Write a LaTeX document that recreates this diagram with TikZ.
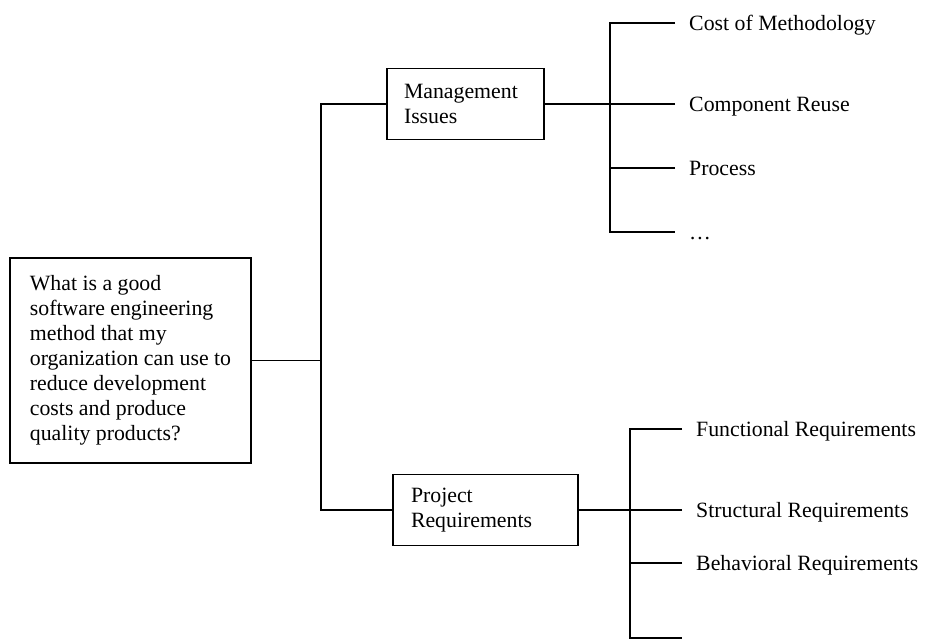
\documentclass[tikz,border=0pt]{standalone}
\usepackage{fontspec}
\setmainfont{Liberation Serif}
\tikzstyle{box} = [rectangle, draw=black, line width=1.6pt, align=left, inner ysep=0pt, font=\fontsize{21.8}{25}\selectfont]
\tikzstyle{leaf} = [anchor=west, inner xsep=14pt, inner ysep=0pt, text height=14.4pt, text depth=0pt, font=\fontsize{21.8}{25}\selectfont]
\tikzstyle{line} = [line width=1.6pt]

\begin{document}
\begin{tikzpicture}[x=1pt, y=-1pt]
    \useasboundingbox (0,0) rectangle (925,642);

    \node (q) [box, inner xsep=18pt, minimum width=241pt, minimum height=205pt] at (130.5,360.5)
        {What is a good\\ software engineering\\ method that my\\ organization can use to\\ reduce development\\ costs and produce\\ quality products?};
    \node (mgmt) [box, text width=123pt, inner xsep=17pt, minimum height=71pt] at (465.5,104) {Management\\ Issues};
    \node (proj) [box, text width=149pt, inner xsep=18pt, minimum height=71pt] at (485.5,510) {Project\\ Requirements};

    % management issues
    \node (cost) [leaf] at (675,23) {Cost of Methodology};
    \node (reuse) [leaf] at (675,104) {Component Reuse};
    \node (proc) [leaf] at (675,168) {Process};
    \node (mdots) [leaf] at (675,232) {\dots};

    % project requirements
    \node (func) [leaf] at (682,429) {Functional Requirements};
    \node (struc) [leaf] at (682,510) {Structural Requirements};
    \node (behav) [leaf] at (682,563) {Behavioral Requirements};
    \coordinate (pend) at (682,638);

    \coordinate (trunk) at (321,360.5);
    \coordinate (mbr) at (610,0);
    \coordinate (pbr) at (630,0);

    \draw [line] (q.east) -- (trunk);
    \draw [line] (mgmt.west) -| (trunk) |- (proj.west);

    \draw [line] (cost.west) -| (mbr |- mdots.west) -- (mdots.west);
    \draw [line] (mgmt.east) -- (mgmt.east -| mbr);
    \draw [line] (reuse.west) -- (reuse.west -| mbr);
    \draw [line] (proc.west) -- (proc.west -| mbr);

    \draw [line] (func.west) -| (pbr |- pend) -- (pend);
    \draw [line] (proj.east) -- (proj.east -| pbr);
    \draw [line] (struc.west) -- (struc.west -| pbr);
    \draw [line] (behav.west) -- (behav.west -| pbr);
\end{tikzpicture}
\end{document}
